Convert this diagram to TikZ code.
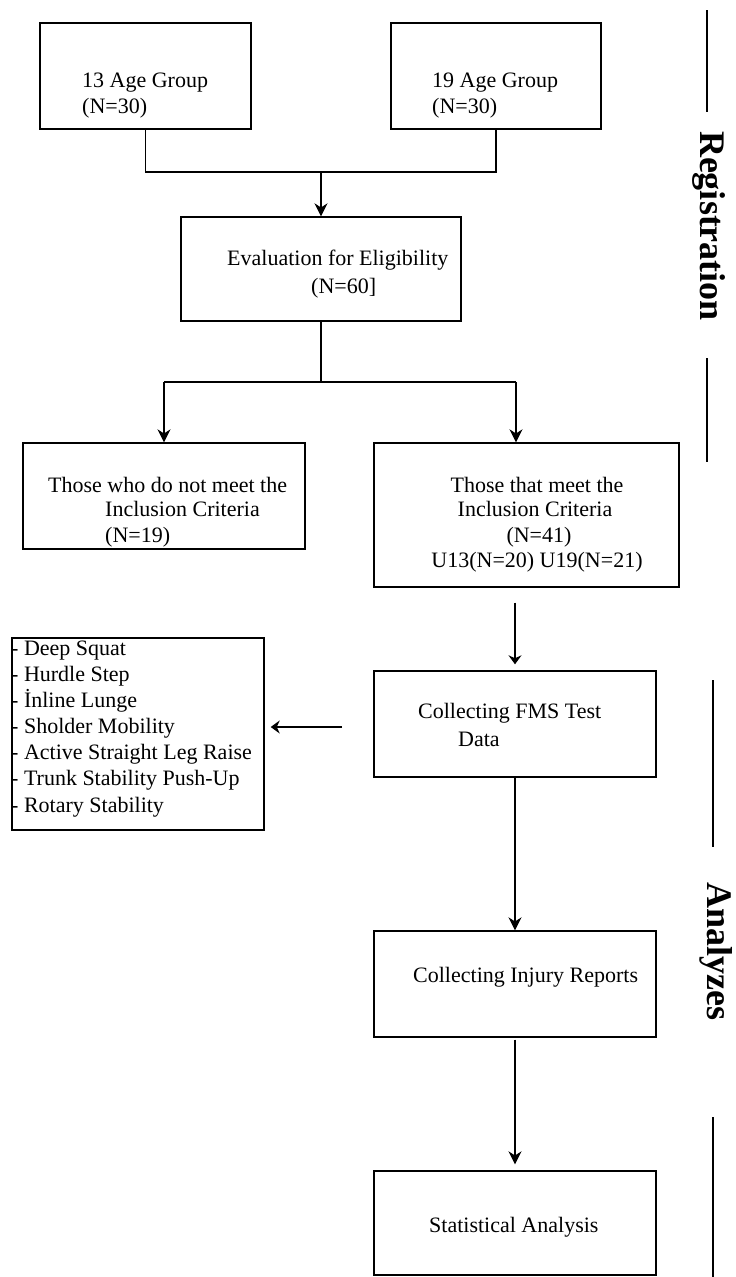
\documentclass[tikz,border=0pt]{standalone}
\usepackage{fontspec}
\setmainfont{Liberation Serif}
\usetikzlibrary{arrows.meta}

\begin{document}
\begin{tikzpicture}[x=1pt,y=-1pt,
  box/.style={draw,line width=1.4pt,inner sep=0pt},
  txt/.style={inner sep=0pt,anchor=base west,font=\fontsize{22}{26}\selectfont},
  ctxt/.style={txt,anchor=base},
  phase/.style={inner sep=0pt,rotate=-90,font=\fontsize{36}{40}\selectfont\bfseries},
  link/.style={line width=1.3pt},
  arr/.style={link,-{Stealth[length=13pt,width=13pt]}},
  smallarr/.style={link,-{Stealth[length=9pt,width=13pt]}}]
\useasboundingbox (0,0) rectangle (736,1277);

% boxes
\node[box,minimum width=211,minimum height=106] (age13) at (145.5,76) {};
\node[box,minimum width=210,minimum height=106] (age19) at (496,76) {};
\node[box,minimum width=280,minimum height=104] (evalbox) at (321,269) {};
\node[box,minimum width=282,minimum height=106] (notmeet) at (164,496) {};
\node[box,minimum width=305,minimum height=144] (meet) at (526.5,515) {};
\node[box,minimum width=252,minimum height=192] (tests) at (138,734) {};
\node[box,minimum width=282,minimum height=106] (fms) at (515,724) {};
\node[box,minimum width=282,minimum height=106] (injury) at (515,984) {};
\node[box,minimum width=282,minimum height=104] (stats) at (515,1223) {};

% texts
\node[txt] (age13a) at (82,87) {13 Age Group};
\node[txt] (age13b) at (82,113) {(N=30)};
\node[txt] (age19a) at (432,87) {19 Age Group};
\node[txt] (age19b) at (432,113) {(N=30)};
\node[txt] (evala) at (227,265) {Evaluation for Eligibility};
\node[txt] (evalb) at (311,293) {(N=60]};
\node[txt] (notmeeta) at (48,492) {Those who do not meet the};
\node[txt] (notmeetb) at (105,516) {Inclusion Criteria};
\node[txt] (notmeetc) at (105,542) {(N=19)};
\node[ctxt] (meeta) at (537,492) {Those that meet the};
\node[ctxt] (meetb) at (535,516) {Inclusion Criteria};
\node[ctxt] (meetc) at (539,542) {(N=41)};
\node[ctxt] (meetd) at (537,567) {U13(N=20) U19(N=21)};
\node[txt] (fmsa) at (418,718) {Collecting FMS Test};
\node[txt] (fmsb) at (458,746) {Data};
\node[txt] (injurya) at (413,982) {Collecting Injury Reports};
\node[txt] (statsa) at (429,1232) {Statistical Analysis};
\foreach \test [count=\i from 0] in {Deep Squat,Hurdle Step,İnline Lunge,Sholder Mobility,Active Straight Leg Raise,Trunk Stability Push-Up,Rotary Stability}
  \node[txt] (test\i) at (11,655+26.17*\i) {- \test};

% phases
\node[phase] (reg) at (709,226) {Registration};
\node[phase] (ana) at (716,951) {Analyzes};
\draw[link] (707,10) -- (707,112);
\draw[link] (707,358) -- (707,462);
\draw[link] (713,680) -- (713,847);
\draw[link] (713,1117) -- (713,1277);

% connectors
\coordinate (j1) at (321,172);
\coordinate (j2) at (321,382);
\coordinate (j3) at (516,382);
\coordinate (j4) at (374,727);
\draw[link] (age13.south) |- (j1) -| (age19.south);
\draw[arr] (j1) -- (evalbox.north);
\draw[link] (evalbox.south) -- (j2);
\draw[link] (notmeet.north |- j2) -- (j3);
\draw[arr] (notmeet.north |- j2) -- (notmeet.north);
\draw[arr] (j3) -- (meet.north -| j3);
\draw[smallarr,shorten <=15pt,shorten >=6pt] (meet.south -| fms.north) -- (fms.north);
\draw[smallarr,shorten <=32pt,shorten >=6pt] (j4) -- (tests.east |- j4);
\draw[arr] (fms.south) -- (injury.north);
\draw[arr,shorten <=2pt,shorten >=6pt] (injury.south) -- (stats.north);
\end{tikzpicture}
\end{document}
